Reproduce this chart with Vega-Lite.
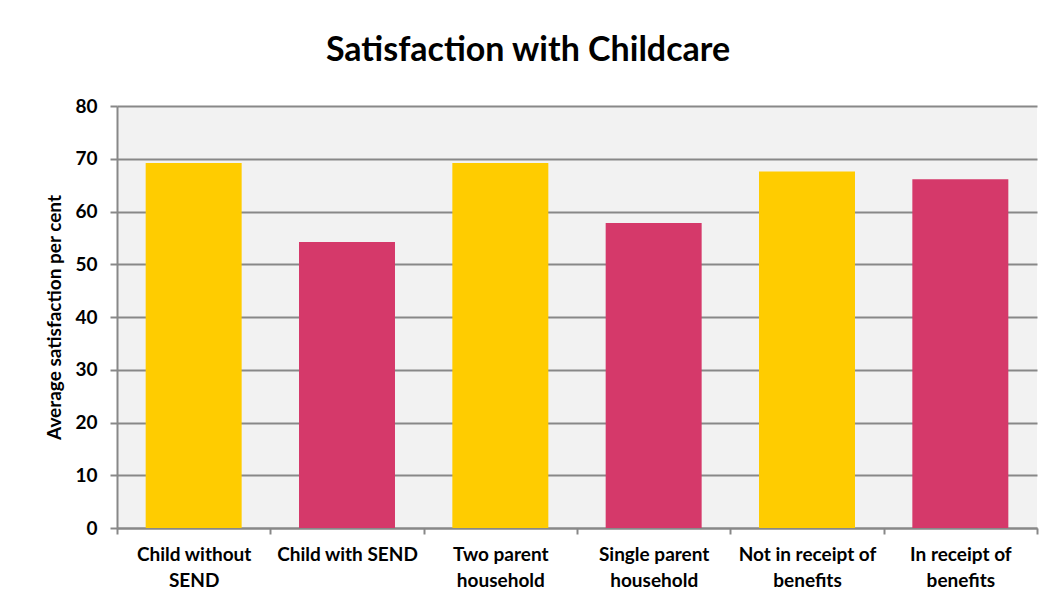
{
  "$schema": "https://vega.github.io/schema/vega-lite/v6.json",
  "autosize": {"type": "none"},
  "width": 920,
  "height": 422,
  "padding": {"left": 117, "top": 106, "right": 19, "bottom": 79},
  "background": "white",
  "title": {
    "text": "Satisfaction with Childcare",
    "font": "Lato",
    "fontSize": 34,
    "fontWeight": "bold",
    "color": "black",
    "anchor": "middle",
    "dx": -49,
    "offset": 29
  },
  "data": {
    "values": [
      {"group": "Child without SEND", "value": 69.2, "type": "a"},
      {"group": "Child with SEND", "value": 54.2, "type": "b"},
      {"group": "Two parent household", "value": 69.2, "type": "a"},
      {"group": "Single parent household", "value": 57.8, "type": "b"},
      {"group": "Not in receipt of benefits", "value": 67.6, "type": "a"},
      {"group": "In receipt of benefits", "value": 66.1, "type": "b"}
    ]
  },
  "mark": {"type": "bar", "width": {"band": 0.626}},
  "encoding": {
    "x": {
      "field": "group",
      "type": "nominal",
      "sort": null,
      "scale": {"paddingInner": 0, "paddingOuter": 0},
      "axis": {
        "title": null,
        "labelAngle": 0,
        "labelFont": "Lato",
        "labelFontSize": 19,
        "labelFontWeight": "bold",
        "labelColor": "black",
        "labelPadding": 11,
        "labelLineHeight": 26,
        "labelExpr": "datum.value == 'Child without SEND' ? ['Child without', 'SEND'] : datum.value == 'Two parent household' ? ['Two parent', 'household'] : datum.value == 'Single parent household' ? ['Single parent', 'household'] : datum.value == 'Not in receipt of benefits' ? ['Not in receipt of', 'benefits'] : datum.value == 'In receipt of benefits' ? ['In receipt of', 'benefits'] : datum.label",
        "tickBand": "extent",
        "tickSize": 6,
        "tickColor": "#888888",
        "tickWidth": 2,
        "domainColor": "#888888",
        "domainWidth": 2,
        "grid": false
      }
    },
    "y": {
      "field": "value",
      "type": "quantitative",
      "scale": {"domain": [0, 80]},
      "axis": {
        "title": "Average satisfaction per cent",
        "titleFont": "Lato",
        "titleFontSize": 19,
        "titleFontWeight": "bold",
        "titleColor": "black",
        "titlePadding": 10,
        "values": [0, 10, 20, 30, 40, 50, 60, 70, 80],
        "labelFont": "Lato",
        "labelFontSize": 19,
        "labelFontWeight": "bold",
        "labelColor": "black",
        "labelPadding": 13,
        "tickSize": 7,
        "tickColor": "#888888",
        "tickWidth": 2,
        "domainColor": "#888888",
        "domainWidth": 2,
        "grid": true,
        "gridColor": "#888888",
        "gridWidth": 2
      }
    },
    "color": {
      "field": "type",
      "type": "nominal",
      "scale": {"domain": ["a", "b"], "range": ["#FFCC00", "#D5396A"]},
      "legend": null
    }
  },
  "config": {
    "view": {"fill": "#F2F2F2", "stroke": null}
  }
}
